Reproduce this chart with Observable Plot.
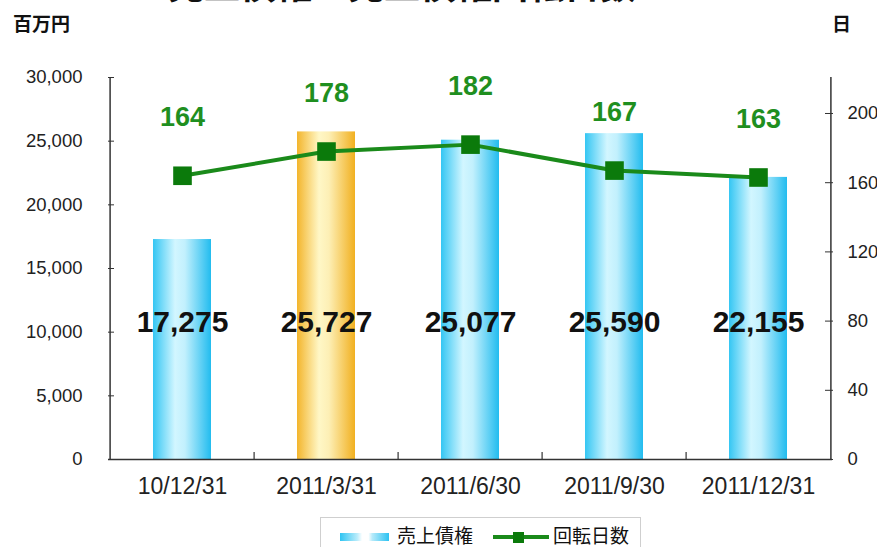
<!DOCTYPE html>
<html>
<head>
<meta charset="utf-8">
<script src="https://cdn.jsdelivr.net/npm/d3@7"></script>
<script src="https://cdn.jsdelivr.net/npm/@observablehq/plot@0.6"></script>
<style>
  html, body { margin: 0; padding: 0; background: #fff; overflow: hidden; }
  #wrap { position: relative; width: 877px; height: 547px; overflow: hidden; }
  .cjk { font-family: "Noto Sans CJK JP", "Noto Sans", sans-serif; position: absolute; color: #111; }
  #title { left: 168px; top: -35px; font-size: 36px; font-weight: 700; line-height: 36px; white-space: nowrap; }
  #unitL { left: 13px; top: 11px; font-size: 19px; font-weight: 700; line-height: 24px; }
  #unitR { left: 832px; top: 11px; font-size: 19px; font-weight: 700; line-height: 24px; }
  #legend { position: absolute; left: 320px; top: 517px; width: 321px; height: 40px; border: 1.5px solid #cfcfcf; box-sizing: border-box; background: #fff; }
  .lg-text { position: absolute; top: 6px; font-family: "Noto Sans CJK JP", sans-serif; font-size: 19px; line-height: 22px; color: #111; }
  #sw { position: absolute; left: 19px; top: 15px; width: 49px; height: 8px;
        background: linear-gradient(to right, #2ec4f2 0%, #b9ecfb 35%, #ffffff 45%, #ffffff 58%, #b5eafa 66%, #2cc2f2 100%); }
  #ln { position: absolute; left: 172px; top: 17px; width: 56px; height: 4px; background: #1a8a1a; }
  #mk { position: absolute; left: 192px; top: 13.5px; width: 11px; height: 11px; background: #0b7a0b; }
</style>
</head>
<body>
<div id="wrap">
  <div id="title" class="cjk">売上債権・売上債権回転日数</div>
  <div id="unitL" class="cjk">百万円</div>
  <div id="unitR" class="cjk">日</div>
  <div id="chart"></div>
  <div id="legend">
    <div id="sw"></div>
    <div class="lg-text" style="left:76px">売上債権</div>
    <div id="ln"></div>
    <div id="mk"></div>
    <div class="lg-text" style="left:232px">回転日数</div>
  </div>
</div>
<script>
// ---- data ----
const categories = ["10/12/31", "2011/3/31", "2011/6/30", "2011/9/30", "2011/12/31"];
const receivables = [17275, 25727, 25077, 25590, 22155];   // 売上債権 (百万円)
const turnoverDays = [164, 178, 182, 167, 163];             // 回転日数 (日)
const highlighted = ["2011/3/31"];
const leftTicks = [0, 5000, 10000, 15000, 20000, 25000, 30000];
const rightTicks = [0, 40, 80, 120, 160, 200];

// ---- layout ----
const W = 877, H = 547;
const mL = 108, mR = 45, mT = 77, mB = 88;
const yMax = 30000, rMax = 220.8;
const k = yMax / rMax;                // right axis -> left axis units
const step = (W - mL - mR) / categories.length;
const plotH = H - mT - mB;
const px = v => v * yMax / plotH;     // pixels -> y units

const rows = categories.map((c, i) => ({
  cat: c, value: receivables[i], days: turnoverDays[i], scaled: turnoverDays[i] * k,
  hi: highlighted.includes(c)
}));

const font = "Liberation Sans, Arial, sans-serif";

const chart = Plot.plot({
  width: W, height: H,
  marginLeft: mL, marginRight: mR, marginTop: mT, marginBottom: mB,
  style: { fontFamily: font, background: "#fff", color: "#222", overflow: "visible" },
  x: { domain: categories, paddingInner: 0.6, paddingOuter: 0.3, label: null },
  y: { domain: [0, yMax], label: null },
  marks: [
    Plot.barY(rows.filter(d => !d.hi), { x: "cat", y: "value", fill: "url(#gBlue)" }),
    Plot.barY(rows.filter(d => d.hi), { x: "cat", y: "value", fill: "url(#gOrange)" }),
    // axis lines
    Plot.ruleY([0], { stroke: "#333", strokeWidth: 1.5 }),
    Plot.ruleX([categories[0]], { y1: 0, y2: yMax, dx: -step / 2, stroke: "#333", strokeWidth: 1.5 }),
    Plot.ruleX([categories[categories.length - 1]], { y1: 0, y2: yMax, dx: step / 2, stroke: "#333", strokeWidth: 1.5 }),
    // x tick marks at category boundaries (pointing up)
    Plot.ruleX(categories.slice(1), { y1: 0, y2: px(7), dx: -step / 2, stroke: "#333", strokeWidth: 1.2 }),
    Plot.axisX({ tickSize: 0, tickPadding: 18, fontSize: 23, fill: "#222" }),
    Plot.axisY(leftTicks, { anchor: "left", tickSize: -6, tickPadding: 32, fontSize: 18.5, fill: "#222",
      stroke: "#333", tickFormat: d3.format(",") }),
    Plot.axisY(rightTicks.map(v => v * k), { anchor: "right", tickSize: -8, tickPadding: 23, fontSize: 18.5,
      fill: "#222", stroke: "#333", tickFormat: d => String(Math.round(d / k)) }),
    // line
    Plot.line(rows, { x: "cat", y: "scaled", stroke: "#1a8a1a", strokeWidth: 4 }),
    Plot.dot(rows, { x: "cat", y: "scaled", symbol: "square", r: 10.5, fill: "#0b7a0b", stroke: null }),
    Plot.text(rows, { x: "cat", y: "scaled", text: d => String(d.days), dy: -58,
      fontSize: 27, fontWeight: "bold", fill: "#1f8f1f" }),
    // bar value labels
    Plot.text(rows, { x: "cat", frameAnchor: "bottom", dy: -128, text: d => d3.format(",")(d.value),
      fontSize: 30, fontWeight: "bold", fill: "#111" })
  ]
});

const svg = d3.select(chart);
const defs = svg.insert("defs", ":first-child");
const addGrad = (id, stops) => {
  const g = defs.append("linearGradient").attr("id", id).attr("x1", "0").attr("x2", "1").attr("y1", "0").attr("y2", "0");
  stops.forEach(([o, c]) => g.append("stop").attr("offset", o).attr("stop-color", c));
};
addGrad("gBlue", [[0, "#34c6f3"], [0.38, "#d2f6ff"], [0.55, "#c2f0fd"], [1, "#22bcef"]]);
addGrad("gOrange", [[0, "#f3b52c"], [0.38, "#fff7c6"], [0.55, "#fdefb5"], [1, "#f1b020"]]);

document.getElementById("chart").appendChild(chart);
</script>
</body>
</html>
